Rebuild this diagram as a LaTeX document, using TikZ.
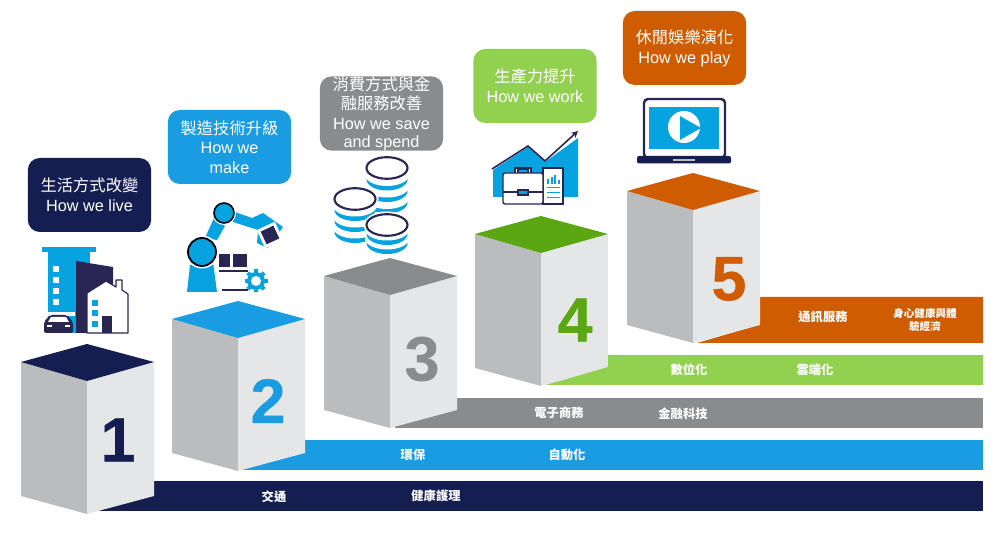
\documentclass[tikz,border=0pt]{standalone}
\usepackage{fontspec}
\setmainfont{Liberation Sans}
\newfontfamily\cjk{Noto Sans CJK TC}
\newfontfamily\numfont[FakeBold=0.6]{Liberation Sans Bold}
\usetikzlibrary{arrows.meta}
\definecolor{navy}{HTML}{141E50}
\definecolor{ink}{HTML}{2A2654}
\definecolor{sky}{HTML}{1A9CE2}
\definecolor{icon}{HTML}{06A3E0}
\definecolor{slate}{HTML}{8A8B8D}
\definecolor{lime}{HTML}{92D14F}
\definecolor{leaf}{HTML}{5BA713}
\definecolor{rust}{HTML}{D05C02}
\definecolor{faceL}{HTML}{BBBCBE}
\definecolor{faceR}{HTML}{E5E6E8}
\tikzset{
  titlebox/.style={rounded corners=9pt,minimum width=92.5pt,minimum height=55.5pt,inner sep=0pt,align=center,text=white,font=\fontsize{12.2}{14.8}\selectfont},
  barlabel/.style={text=white,inner sep=0pt,align=center,font=\cjk\bfseries\fontsize{9.2}{10}\selectfont},
  bignum/.style={inner sep=0pt,font=\numfont\fontsize{47}{47}\selectfont},
}
% #1 apex x, #2 apex y, #3 top colour, #4 digit, #5 name, #6 digit dx, #7 digit dy
\newcommand{\cube}[7]{
  \fill[faceL] (#1-66,#2+18) -- (#1,#2+37) -- (#1,#2+170) -- (#1-66,#2+152) -- cycle;
  \fill[faceR] (#1,#2+37) -- (#1+67,#2+18) -- (#1+67,#2+152) -- (#1,#2+170) -- cycle;
  \fill[#3] (#1,#2) -- (#1+67,#2+18) -- (#1,#2+37) -- (#1-66,#2+18) -- cycle;
  \node[bignum,text=#3] (#5) at (#1+#6,#2+#7) {#4};
}
\newcommand{\coinstack}[4]{% x, top y, number of crescents, spacing
  \foreach \k in {#3,...,1}{
    \fill[icon] (#1,#2+#4*\k) ellipse [x radius=20.5,y radius=11];
    \fill[white] (#1,#2+#4*\k-4.5) ellipse [x radius=22,y radius=11];
  }
  \fill[white] (#1,#2) ellipse [x radius=23.5,y radius=13.5];
  \draw[ink,line width=1.6pt,fill=white] (#1,#2) ellipse [x radius=20.5,y radius=10.8];
}
\begin{document}
\begin{tikzpicture}[x=.75pt,y=-.75pt]
\useasboundingbox (0,0) rectangle (1008,552);
\fill[white] (0,0) rectangle (1008,552);

% bars
\fill[navy] (92,481) rectangle (983,511);
\fill[sky] (243,440) rectangle (983,470);
\fill[slate] (395,398) rectangle (983,428);
\fill[lime] (547,355) rectangle (983,385);
\fill[rust] (697,343) -- (759,325) -- (759,297) -- (983,297) -- (983,343) -- cycle;

% cubes
\cube{87}{344}{navy}{1}{n1}{31}{96}
\cube{238}{301}{sky}{2}{n2}{30}{100}
\cube{390}{258}{slate}{3}{n3}{32}{101}
\cube{541}{216}{leaf}{4}{n4}{34}{104}
\cube{693}{173}{rust}{5}{n5}{36}{106}
\fill[lime] (547,385) -- (608,367) -- (608,355) -- (625,355) -- (625,385) -- cycle;

% bar labels
\node[barlabel] (b1) at (274,497) {交通};
\node[barlabel] (b2) at (436,496) {健康護理};
\node[barlabel] (b3) at (413,455) {環保};
\node[barlabel] (b4) at (567,455) {自動化};
\node[barlabel] (b5) at (559,413) {電子商務};
\node[barlabel] (b6) at (683,414) {金融科技};
\node[barlabel] (b7) at (689,370) {數位化};
\node[barlabel] (b8) at (815,370) {雲端化};
\node[barlabel] (b9) at (823,317) {通訊服務};
\node[barlabel,font=\cjk\bfseries\fontsize{7.9}{9.6}\selectfont] (b10) at (925,320) {身心健康與體\\驗經濟};

% title boxes
\node[titlebox,fill=navy] (t1) at (89.5,195) {{\cjk 生活方式改變}\\How we live};
\node[titlebox,fill=sky] (t2) at (229.5,147) {{\cjk 製造技術升級}\\How we\\make};
\node[titlebox,fill=slate] (t3) at (381.5,113.5) {{\cjk 消費方式與金}\\{\cjk 融服務改善}\\How we save\\[-1.5pt]and spend};
\node[titlebox,fill=lime] (t4) at (535,86) {{\cjk 生產力提升}\\How we work};
\node[titlebox,fill=rust] (t5) at (684.5,48) {{\cjk 休閒娛樂演化}\\How we play};

% icon 1: city
\fill[icon] (42,247) rectangle (96,252.5);
\fill[icon] (48,252) rectangle (90,333);
\foreach \yy in {266,277,288,299} \fill[white] (53,\yy) rectangle (59,\yy+6);
\fill[ink] (76,261) -- (113,267) -- (113,333) -- (76,333) -- cycle;
\filldraw[fill=white,draw=ink,line width=.9pt,line join=round] (87,333) -- (87,293) -- (106,281) -- (116,287) -- (116,280) -- (122,280) -- (122,290) -- (128,294) -- (128,333) -- cycle;
\foreach \yy in {300,310,321} \fill[icon] (92,\yy) rectangle (98,\yy+6);
\fill[ink] (102,316) rectangle (112,333.5);
\fill[white] (42,312) rectangle (75,316);
\fill[ink,rounded corners=1.5pt] (44,333) -- (44,322) -- (50,315) -- (67,315) -- (73,322) -- (73,333) -- cycle;
\fill[white] (51,317) -- (66,317) -- (69,322) -- (48,322) -- cycle;
\fill[white] (47,325) rectangle (52,327);
\fill[white] (65,325) rectangle (70,327);

% icon 2: robot
\fill[icon] (190,265) -- (187,292) -- (217,292) -- (213,262) -- cycle;
\fill[icon] (205,238) -- (214,218) -- (225,226) -- (217,240) -- cycle;
\fill[icon] (232,211) -- (252,218) -- (263,213) -- (283,227) -- (278,234) -- (280,240) -- (267,248) -- (257,243) -- (258,230) -- (233,222) -- cycle;
\fill[white,rotate around={25:(270,235)}] (260,225) rectangle (280,245);
\fill[ink,rotate around={25:(270,235)}] (263,228) rectangle (277,242);
\fill[white] (202,252) circle [radius=16.5];
\filldraw[fill=icon,draw=black!85!ink,line width=1.4pt] (202,252) circle [radius=14];
\fill[white] (224,213) circle [radius=12];
\filldraw[fill=icon,draw=black!85!ink,line width=1.2pt] (224,213) circle [radius=10];
\fill[ink] (219,254) rectangle (230,267);
\fill[ink] (233,254) rectangle (247,267);
\fill[ink] (219,270) rectangle (248,272);
\fill[ink] (222,289) rectangle (248,291.5);
\foreach \a in {0,45,...,315} \fill[icon,rotate around={\a:(256,281)}] (254,269.5) rectangle (258,274);
\fill[icon] (256,281) circle [radius=9];
\fill[white] (256,281) circle [radius=5];

% icon 3: coins
\coinstack{387}{168}{3}{11.5}
\coinstack{355}{199}{3}{11}
\coinstack{387}{225}{2}{9}

% icon 4: chart
\fill[icon] (493,170) -- (528,147) -- (545,162) -- (578,138) -- (578,197) -- (493,197) -- cycle;
\draw[ink,line width=1.2pt,-{Stealth[length=5pt,width=5pt]}] (492,169) -- (528,146) -- (545,161) -- (578,131);
\filldraw[fill=white,draw=ink,line width=1pt] (515,173) -- (515,168) -- (531,168) -- (531,173);
\filldraw[fill=icon,draw=ink,line width=.8pt] (518,169.5) rectangle (528,173);
\filldraw[fill=white,draw=ink,line width=1.1pt] (543,168) rectangle (563,204);
\foreach \xx/\yy in {547/179,550.5/177,554/175,557.5/180} \fill[icon] (\xx,\yy) rectangle (\xx+2,184);
\foreach \yy in {187,192,197} \fill[icon] (547,\yy) rectangle (560,\yy+1.5);
\filldraw[fill=white,draw=ink,line width=1.1pt,rounded corners=1.5pt] (503,173) rectangle (543,204);
\draw[ink,line width=1.1pt] (503,192) -- (543,192);
\filldraw[fill=icon,draw=ink,line width=.9pt] (518,190) rectangle (528,195);

% icon 5: laptop
\filldraw[fill=white,draw=ink,line width=1.8pt,rounded corners=3pt] (644,99) rectangle (725,158);
\fill[icon] (649,107) rectangle (719,149);
\fill[white] (684,127) circle [radius=16];
\fill[icon] (680,116) -- (701,128) -- (680,140) -- cycle;
\fill[navy,rounded corners=1.5pt] (637,156) rectangle (731,163.5);
\fill[faceL] (673,159) rectangle (695,161);
\end{tikzpicture}
\end{document}
